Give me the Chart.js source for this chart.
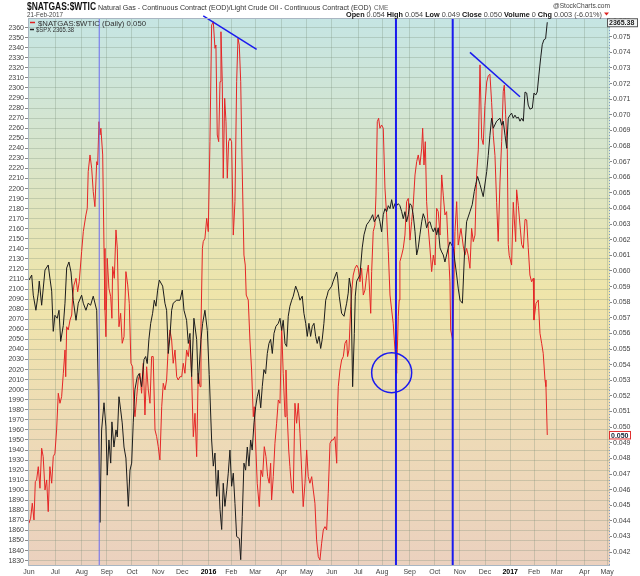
<!DOCTYPE html>
<html>
<head>
<meta charset="utf-8">
<title>$NATGAS:$WTIC vs $SPX</title>
<script src="https://cdn.jsdelivr.net/npm/chart.js@4.4.1/dist/chart.umd.min.js"></script>
<style>
  html, body { margin: 0; padding: 0; background: #fff; overflow: hidden; }
  #myChart { display: block; }
</style>
</head>
<body>
<canvas id="myChart" width="640" height="576"></canvas>
<script>
// x axis is in trading days counted from 1 Jun 2015
const monthStarts = [0, 22, 44, 65, 86, 108, 128, 150, 169, 189, 211, 232, 253, 275, 295, 318, 339, 360, 381, 402, 422, 441, 464, 483];
const monthLabels = ['Jun', 'Jul', 'Aug', 'Sep', 'Oct', 'Nov', 'Dec', '2016', 'Feb', 'Mar', 'Apr', 'May', 'Jun', 'Jul', 'Aug', 'Sep', 'Oct', 'Nov', 'Dec', '2017', 'Feb', 'Mar', 'Apr', 'May'];

const spxTicks = [];
for (let v = 1830; v <= 2360; v += 10) spxTicks.push(v);
const ratioTicks = [];
for (let v = 42; v <= 76; v++) ratioTicks.push(v / 1000);

// $SPX (black, left axis)
const spxDays = [0, 2.3, 3.6, 5.8, 7.8, 8.6, 10.6, 13.4, 16.1, 17.5, 19.0, 20.3, 21.7, 23.6, 25.1, 26.5, 28.7, 30.1, 31.5, 33.4,
  35.1, 37.0, 39.3, 41.2, 44.0, 45.4, 47.6, 49.5, 51.5, 53.7, 56.6, 57.9, 59.3, 60.7, 62.7, 64.3, 65.4, 66.8, 68.3, 69.3,
  71.0, 72.7, 73.8, 75.2, 76.6, 77.9, 79.4, 81.0, 83.0, 84.4, 85.8, 87.1, 88.5, 90.5, 92.1, 94.1, 96.1, 97.5, 98.8, 100.2,
  101.7, 103.3, 104.7, 106.1, 107.5, 108.9, 111.7, 113.6, 115.0, 116.4, 117.8, 119.2, 120.5, 123.4, 126.2, 128.1, 129.5, 131.7, 133.1, 134.5,
  135.9, 137.8, 140.1, 141.4, 143.7, 145.1, 147.0, 149.0, 150.6, 152.6, 154.0, 155.4, 156.8, 158.1, 159.6, 161.0, 162.3, 163.7, 165.2, 166.5,
  167.9, 169.3, 170.7, 172.1, 173.5, 175.7, 176.9, 178.2, 179.6, 181.0, 182.4, 183.8, 185.2, 186.5, 188.0, 189.4, 190.7, 192.1, 193.6, 194.9,
  196.3, 197.7, 199.1, 200.5, 201.9, 203.3, 204.7, 206.3, 208.3, 209.7, 211.1, 212.4, 213.9, 215.3, 216.6, 218.0, 219.5, 220.8, 222.8, 225.0,
  226.4, 228.3, 229.7, 231.2, 232.5, 233.9, 235.3, 236.7, 238.1, 239.5, 240.8, 242.3, 243.7, 245.0, 246.4, 247.9, 249.2, 250.0, 252.9, 254.2,
  257.1, 257.9, 259.2, 261.2, 263.2, 265.4, 266.7, 267.6, 269.0, 270.4, 271.8, 272.6, 273.8, 276.5, 278.4, 279.9, 282.1, 284.0, 285.5, 287.1,
  288.5, 289.9, 291.8, 293.2, 294.6, 296.0, 297.4, 298.8, 300.2, 301.6, 303.0, 304.3, 305.8, 307.2, 308.5, 309.9, 311.4, 312.7, 314.1, 315.5,
  316.9, 318.3, 319.7, 321.0, 322.5, 323.9, 325.2, 326.6, 328.1, 329.4, 330.8, 332.2, 333.6, 335.0, 336.4, 337.8, 339.2, 340.6, 341.9, 343.4,
  344.8, 346.1, 347.5, 348.9, 350.3, 351.7, 353.1, 354.5, 355.9, 357.3, 358.6, 360.1, 362.1, 363.8, 365.6, 368.4, 370.3, 372.0, 373.2, 374.8,
  376.8, 379.5, 382.4, 383.7, 385.1, 386.5, 387.9, 390.7, 393.5, 394.9, 396.2, 397.7, 399.1, 400.4, 401.8, 403.2, 404.6, 406.0, 407.4, 408.8,
  410.2, 411.6, 413.0, 414.4, 415.8, 417.1, 418.5, 420.5, 421.9, 423.3, 424.6, 426.0, 427.5, 428.8, 430.2, 431.6, 433.0];
const spxValues = [2109, 2114, 2094, 2079, 2096, 2108, 2084, 2119, 2124, 2111, 2098, 2058, 2074, 2071, 2079, 2048, 2064, 2086, 2121, 2127,
  2117, 2089, 2069, 2086, 2094, 2086, 2079, 2086, 2084, 2093, 2079, 2000, 1868, 1960, 1987, 1963, 1915, 1950, 1927, 1968,
  1943, 1960, 1953, 1993, 1980, 1967, 1943, 1932, 1884, 1920, 1927, 1967, 2000, 2013, 2016, 2003, 2030, 2033, 2026, 2050,
  2066, 2076, 2089, 2083, 2099, 2109, 2103, 2086, 2079, 2036, 2053, 2079, 2086, 2089, 2089, 2099, 2079, 2069, 2046, 2056,
  2013, 2071, 2050, 2006, 2050, 2066, 2079, 2059, 2015, 1950, 1924, 1937, 1894, 1920, 1881, 1861, 1907, 1884, 1900, 1917,
  1940, 1904, 1917, 1887, 1854, 1852, 1831, 1874, 1927, 1920, 1943, 1924, 1950, 1940, 1967, 1983, 1993, 2000, 1982, 2003,
  2020, 2016, 2036, 2046, 2050, 2036, 2056, 2063, 2066, 2071, 2059, 2069, 2046, 2043, 2073, 2083, 2089, 2093, 2103, 2096,
  2089, 2093, 2076, 2066, 2053, 2066, 2053, 2063, 2066, 2053, 2046, 2053, 2041, 2050, 2066, 2089, 2094, 2098, 2103, 2108,
  2117, 2111, 2093, 2076, 2073, 2086, 2096, 2111, 2101, 2003, 2056, 2093, 2108, 2114, 2141, 2154, 2164, 2167, 2170, 2174,
  2167, 2170, 2174, 2167, 2157, 2174, 2180, 2177, 2183, 2180, 2189, 2180, 2185, 2183, 2185, 2183, 2177, 2170, 2177, 2167,
  2174, 2185, 2183, 2174, 2157, 2134, 2141, 2154, 2167, 2175, 2170, 2161, 2166, 2167, 2161, 2157, 2161, 2154, 2161, 2141,
  2137, 2134, 2127, 2134, 2141, 2147, 2144, 2141, 2127, 2114, 2101, 2089, 2086, 2134, 2167, 2177, 2184, 2197, 2204, 2212,
  2204, 2192, 2217, 2233, 2253, 2270, 2260, 2267, 2270, 2263, 2267, 2253, 2240, 2270, 2273, 2275, 2270, 2273, 2270, 2271,
  2267, 2270, 2267, 2296, 2295, 2283, 2279, 2280, 2295, 2293, 2296, 2313, 2330, 2343, 2348, 2349, 2365.38];

// $NATGAS:$WTIC (red, right axis)
const ratioDays = [0, 1.4, 2.8, 4.2, 5.3, 6.4, 7.8, 9.2, 10.6, 11.9, 13.4, 14.8, 16.1, 17.5, 19.0, 20.3, 21.7, 23.1, 24.5, 25.9,
  27.3, 28.7, 30.1, 30.7, 31.5, 32.8, 34.3, 35.7, 36.5, 37.6, 39.3, 40.7, 42.0, 44.0, 45.4, 47.6, 48.7, 49.5, 51.0, 52.4,
  53.7, 55.1, 56.6, 57.4, 58.5, 59.3, 60.1, 61.6, 62.7, 63.5, 64.3, 65.4, 66.8, 68.3, 69.3, 69.9, 71.3, 72.7, 73.8, 75.2,
  76.6, 77.9, 79.4, 81.0, 82.5, 83.8, 85.2, 86.6, 87.7, 88.6, 90.0, 91.3, 92.7, 94.1, 95.5, 96.9, 98.3, 99.7, 101.1, 102.5,
  103.8, 105.3, 106.7, 108.0, 109.4, 110.9, 112.2, 113.6, 115.0, 116.4, 117.8, 119.2, 120.5, 122.0, 123.4, 124.7, 126.1, 127.6, 128.9, 130.3,
  131.7, 133.1, 134.5, 135.9, 137.3, 138.7, 140.1, 141.4, 142.9, 143.7, 144.9, 145.6, 147.0, 148.5, 149.8, 151.2, 152.6, 154.0, 155.4, 156.2,
  157.3, 158.5, 159.6, 160.4, 161.5, 162.3, 163.5, 164.6, 165.7, 166.8, 167.9, 169.3, 170.7, 172.1, 173.5, 174.6, 175.7, 176.9, 177.9, 179.6,
  180.7, 181.5, 183.2, 184.6, 186.0, 187.4, 188.2, 189.6, 190.7, 192.4, 193.8, 195.2, 196.6, 198.0, 199.4, 200.7, 201.9, 202.7, 204.1, 205.5,
  206.9, 208.3, 209.7, 211.1, 212.4, 213.9, 214.7, 215.8, 217.0, 218.0, 219.5, 220.8, 222.2, 223.6, 225.0, 226.4, 227.8, 229.1, 230.6, 232.0,
  233.3, 234.7, 236.2, 237.5, 238.9, 240.3, 241.7, 243.1, 244.5, 245.9, 247.3, 248.7, 250.0, 251.5, 252.9, 254.2, 255.6, 257.1, 257.6, 258.4,
  259.8, 261.2, 262.6, 264.0, 265.4, 266.2, 267.3, 268.8, 270.1, 270.9, 272.3, 273.8, 275.1, 276.5, 277.9, 279.3, 280.7, 282.1, 283.5, 285.5,
  286.3, 287.6, 289.0, 289.9, 291.0, 292.1, 293.2, 294.6, 296.0, 297.4, 298.8, 300.2, 301.6, 303.0, 304.3, 305.8, 307.2, 308.5, 309.3, 309.9,
  311.4, 312.7, 314.1, 315.5, 316.9, 318.3, 319.7, 321.0, 322.5, 323.9, 325.2, 326.6, 328.1, 328.9, 330.0, 331.1, 332.2, 333.6, 335.0, 336.4,
  337.8, 339.2, 340.6, 341.9, 343.4, 344.8, 346.1, 347.5, 348.9, 350.3, 351.7, 352.3, 354.0, 355.9, 357.3, 358.6, 360.9, 362.8, 364.2, 365.6,
  366.9, 368.4, 369.8, 371.2, 372.6, 374.0, 375.4, 376.8, 378.2, 379.5, 380.9, 382.4, 383.7, 385.1, 386.5, 387.9, 389.3, 390.7, 392.0, 393.5,
  394.9, 396.2, 397.1, 398.2, 399.6, 400.4, 401.2, 403.2, 404.6, 406.6, 407.4, 408.8, 410.2, 411.6, 413.0, 414.4, 415.8, 417.1, 418.5, 419.9,
  421.3, 421.9, 423.6, 425.5, 426.9, 428.3, 429.6, 431.1, 431.9, 433.0];
const ratioValues = [0.04385, 0.04417, 0.04513, 0.04406, 0.04651, 0.04662, 0.04747, 0.04609, 0.04865, 0.04811, 0.04598, 0.04662, 0.04459, 0.04747, 0.04641, 0.04811, 0.04833, 0.04982, 0.05217, 0.05153,
  0.05195, 0.05345, 0.05494, 0.05323, 0.05643, 0.05622, 0.05686, 0.05718, 0.05835, 0.05910, 0.05953, 0.05867, 0.05931, 0.06124, 0.06252, 0.06359, 0.06401, 0.06636, 0.06743, 0.06658,
  0.06508, 0.06412, 0.06700, 0.06679, 0.06956, 0.06871, 0.06914, 0.06743, 0.06145, 0.05750, 0.05579, 0.06081, 0.05889, 0.05835, 0.05697, 0.06028, 0.05953, 0.06263, 0.06145, 0.05643,
  0.05729, 0.05537, 0.05579, 0.05996, 0.05911, 0.05793, 0.05409, 0.05387, 0.05131, 0.05067, 0.05195, 0.05302, 0.05345, 0.05217, 0.05409, 0.05078, 0.05387, 0.05238, 0.05153, 0.05452,
  0.05452, 0.04982, 0.04939, 0.04875, 0.04790, 0.05131, 0.05281, 0.05238, 0.05302, 0.05515, 0.05622, 0.05558, 0.05409, 0.05494, 0.05323, 0.05302, 0.05323, 0.05323, 0.05409, 0.05345,
  0.05494, 0.05452, 0.05558, 0.05323, 0.04939, 0.05089, 0.04811, 0.05345, 0.05259, 0.05643, 0.06145, 0.06188, 0.06209, 0.06337, 0.06252, 0.06828, 0.07575, 0.07596, 0.07426, 0.07447,
  0.06871, 0.06828, 0.07212, 0.07532, 0.07212, 0.06594, 0.07106, 0.06956, 0.06594, 0.06828, 0.06850, 0.06828, 0.06230, 0.06444, 0.07212, 0.07490, 0.07447, 0.07212, 0.06743, 0.06102,
  0.06038, 0.05846, 0.05814, 0.05558, 0.05366, 0.05067, 0.05131, 0.04854, 0.04641, 0.04491, 0.04726, 0.04683, 0.04875, 0.04811, 0.04683, 0.04641, 0.04769, 0.04534, 0.04683, 0.04897,
  0.05025, 0.05174, 0.05153, 0.05643, 0.05345, 0.05067, 0.05366, 0.05067, 0.04854, 0.04747, 0.04598, 0.04577, 0.05153, 0.05025, 0.05153, 0.04961, 0.04726, 0.04491, 0.04641, 0.04854,
  0.04683, 0.04641, 0.04683, 0.04598, 0.04513, 0.04278, 0.04171, 0.04150, 0.04257, 0.04342, 0.04363, 0.04342, 0.04577, 0.04897, 0.04918, 0.04918, 0.04939, 0.04769, 0.05067, 0.05259,
  0.05366, 0.05430, 0.05452, 0.05537, 0.05558, 0.05452, 0.05494, 0.05771, 0.05910, 0.05974, 0.06017, 0.06038, 0.06017, 0.05931, 0.06017, 0.05846, 0.05878, 0.05974, 0.06038, 0.05729,
  0.05996, 0.06252, 0.06294, 0.06486, 0.06956, 0.06978, 0.06914, 0.06935, 0.06914, 0.06530, 0.06359, 0.06124, 0.05846, 0.05750, 0.05665, 0.05494, 0.05345, 0.05707, 0.05814, 0.06060,
  0.06102, 0.06145, 0.06230, 0.06444, 0.06465, 0.06198, 0.06316, 0.06423, 0.06615, 0.06700, 0.06743, 0.06679, 0.06786, 0.06914, 0.06679, 0.06828, 0.06444, 0.06273, 0.06145, 0.05996,
  0.06102, 0.06038, 0.06401, 0.06380, 0.06230, 0.06615, 0.06486, 0.06359, 0.06380, 0.06145, 0.05931, 0.05622, 0.05558, 0.06252, 0.06444, 0.06166, 0.06273, 0.06160, 0.06102, 0.06145,
  0.06102, 0.06017, 0.06273, 0.06188, 0.06230, 0.06620, 0.06780, 0.07320, 0.06850, 0.06810, 0.07060, 0.07210, 0.07250, 0.07260, 0.07080, 0.06870, 0.06740, 0.06440, 0.06190, 0.06570,
  0.06830, 0.07150, 0.07190, 0.07000, 0.06780, 0.06170, 0.06100, 0.06038, 0.06440, 0.06188, 0.06520, 0.06420, 0.06294, 0.06170, 0.06145, 0.06330, 0.06327, 0.06150, 0.05974, 0.05931,
  0.05953, 0.05686, 0.05793, 0.05814, 0.05601, 0.05537, 0.05473, 0.05302, 0.05259, 0.04950];

// blue annotations drawn on the chart
const markerDays = [58.7, 306.6, 354.0];
const trendJan16 = [[145.6, 0.07633], [190.2, 0.07419]];
const trendDec16 = [[368.4, 0.07400], [410.2, 0.07116]];
const circleAt = [303.0, 0.05349];

const spxMin = 1824.7, spxMax = 2369.6;
const ratioMin = 0.04111, ratioMax = 0.07620;

const toPoints = (days, vals) => days.map((d, i) => ({ x: d, y: vals[i] }));
const gridColor = 'rgba(115, 135, 115, 0.28)';
const font = '"Liberation Sans", Arial, sans-serif';

const backdrop = {
    id: 'backdrop',
    beforeDraw(chart) {
        const { ctx, chartArea: a } = chart;
        ctx.save();
        ctx.fillStyle = '#fff';
        ctx.fillRect(0, 0, chart.width, chart.height);
        const g = ctx.createLinearGradient(0, a.top, 0, a.bottom);
        g.addColorStop(0, '#c5e5e3');
        g.addColorStop(0.25, '#d8e5cb');
        g.addColorStop(0.5, '#efe5aa');
        g.addColorStop(0.75, '#eedbb6');
        g.addColorStop(1, '#ebd1bf');
        ctx.fillStyle = g;
        ctx.fillRect(a.left, a.top, a.right - a.left, a.bottom - a.top);
        ctx.restore();
    },
    afterDraw(chart) {
        const { ctx, chartArea: a } = chart;
        const ySpx = chart.scales.ySpx, yRatio = chart.scales.yRatio;
        ctx.save();

        // frame
        ctx.strokeStyle = '#a9b6c2';
        ctx.lineWidth = 1;
        ctx.beginPath();
        ctx.moveTo(a.right, a.top + 0.5);
        ctx.lineTo(a.left + 0.5, a.top + 0.5);
        ctx.lineTo(a.left + 0.5, a.bottom - 0.5);
        ctx.lineTo(a.right, a.bottom - 0.5);
        ctx.stroke();
        ctx.setLineDash([1, 2]);
        ctx.strokeStyle = '#7f9cc6';
        ctx.beginPath();
        ctx.moveTo(a.right - 0.5, a.top);
        ctx.lineTo(a.right - 0.5, a.bottom);
        ctx.stroke();
        ctx.setLineDash([]);

        // header
        ctx.textBaseline = 'alphabetic';
        ctx.fillStyle = '#111';
        ctx.font = 'bold 11px ' + font;
        ctx.fillText('$NATGAS:$WTIC', 27, 10, 69);
        ctx.fillStyle = '#333';
        ctx.font = '8px ' + font;
        ctx.fillText('Natural Gas - Continuous Contract (EOD)/Light Crude Oil - Continuous Contract (EOD)', 98, 9.5, 273);
        ctx.fillStyle = '#666';
        ctx.font = '6.5px ' + font;
        ctx.fillText('CME', 374, 9.5);
        ctx.fillStyle = '#444';
        ctx.font = '7px ' + font;
        ctx.fillText('21-Feb-2017', 27, 16.5, 36);
        ctx.textAlign = 'right';
        ctx.fillText('@StockCharts.com', 610, 8, 57);
        ctx.textAlign = 'left';

        const parts = [['Open', 1], [' 0.054 ', 0], ['High', 1], [' 0.054 ', 0], ['Low', 1], [' 0.049 ', 0],
            ['Close', 1], [' 0.050 ', 0], ['Volume', 1], [' 0 ', 0], ['Chg', 1], [' 0.003 (-6.01%)', 0]];
        const fontFor = b => (b ? 'bold ' : '') + '7.5px ' + font;
        let total = 0;
        parts.forEach(([t, b]) => { ctx.font = fontFor(b); total += ctx.measureText(t).width; });
        const k = Math.min(1, 256 / total);
        let x = 346;
        parts.forEach(([t, b]) => {
            ctx.font = fontFor(b);
            ctx.fillStyle = b ? '#111' : '#444';
            const w = ctx.measureText(t).width * k;
            ctx.fillText(t, x, 16.5, w);
            x += w;
        });
        ctx.fillStyle = '#d22';
        ctx.beginPath();
        ctx.moveTo(x + 2, 12.5);
        ctx.lineTo(x + 7, 12.5);
        ctx.lineTo(x + 4.5, 15.5);
        ctx.closePath();
        ctx.fill();

        // legend
        ctx.lineWidth = 1.5;
        ctx.strokeStyle = '#e02020';
        ctx.beginPath(); ctx.moveTo(30, 22.5); ctx.lineTo(35, 22.5); ctx.stroke();
        ctx.strokeStyle = '#222';
        ctx.beginPath(); ctx.moveTo(30, 29.5); ctx.lineTo(34, 29.5); ctx.stroke();
        ctx.fillStyle = '#333';
        ctx.font = '8px ' + font;
        ctx.fillText('$NATGAS:$WTIC (Daily) 0.050', 38, 25.5, 108);
        ctx.font = '6.5px ' + font;
        ctx.fillText('$SPX 2365.38', 36, 31.5, 38);

        // last value boxes on the right
        const ys = ySpx.getPixelForValue(spxValues[spxValues.length - 1]);
        ctx.fillStyle = '#f4f6f6';
        ctx.fillRect(607.5, ys - 3.5, 30, 8);
        ctx.strokeStyle = '#555';
        ctx.lineWidth = 1;
        ctx.strokeRect(607.5, ys - 3.5, 30, 8);
        ctx.fillStyle = '#222';
        ctx.font = 'bold 7px ' + font;
        ctx.fillText(String(spxValues[spxValues.length - 1]), 609, ys + 3, 27);

        const yr = yRatio.getPixelForValue(ratioValues[ratioValues.length - 1]);
        ctx.fillStyle = '#fff';
        ctx.fillRect(609.5, yr - 3.5, 21, 7.5);
        ctx.strokeStyle = '#e03030';
        ctx.strokeRect(609.5, yr - 3.5, 21, 7.5);
        ctx.fillStyle = '#123';
        ctx.fillText('0.050', 611, yr + 3, 18);
        ctx.restore();
    }
};

const blue = '#1a1aee';
const markerSets = markerDays.map((d, i) => ({
    data: [{ x: d, y: spxMin }, { x: d, y: spxMax }],
    yAxisID: 'ySpx',
    borderColor: i === 0 ? '#6b6bf0' : blue,
    borderWidth: i === 0 ? 1 : 2
}));

const ctx = document.getElementById('myChart').getContext('2d');
const myChart = new Chart(ctx, {
    type: 'line',
    data: {
        datasets: [
            {
                data: [{ x: circleAt[0], y: circleAt[1] }],
                yAxisID: 'yRatio',
                showLine: false,
                pointRadius: 20,
                pointBorderWidth: 1.5,
                pointBorderColor: blue,
                pointBackgroundColor: 'rgba(0,0,0,0)'
            },
            ...markerSets,
            {
                data: trendJan16.map(p => ({ x: p[0], y: p[1] })),
                yAxisID: 'yRatio',
                borderColor: blue,
                borderWidth: 1.5,
                clip: false
            },
            {
                data: trendDec16.map(p => ({ x: p[0], y: p[1] })),
                yAxisID: 'yRatio',
                borderColor: blue,
                borderWidth: 1.5
            },
            {
                label: '$SPX',
                data: toPoints(spxDays, spxValues),
                yAxisID: 'ySpx',
                borderColor: '#1c1c1c',
                borderWidth: 1
            },
            {
                label: '$NATGAS:$WTIC',
                data: toPoints(ratioDays, ratioValues),
                yAxisID: 'yRatio',
                borderColor: '#e52626',
                borderWidth: 1
            }
        ]
    },
    options: {
        responsive: false,
        animation: false,
        events: [],
        layout: { autoPadding: false, padding: { top: 18, left: 0, right: 0, bottom: 0 } },
        elements: { point: { radius: 0 }, line: { tension: 0 } },
        plugins: { legend: { display: false }, tooltip: { enabled: false } },
        scales: {
            x: {
                type: 'linear',
                min: -0.8,
                max: 485.4,
                afterBuildTicks: s => { s.ticks = monthStarts.map(v => ({ value: v })); },
                afterFit: s => { s.height = 10; },
                grid: { color: gridColor, drawTicks: false },
                border: { display: false },
                ticks: {
                    autoSkip: false,
                    maxRotation: 0,
                    padding: 2,
                    color: c => /^20/.test(monthLabels[c.index]) ? '#000' : '#444',
                    font: c => ({ family: font, size: 7, weight: /^20/.test(monthLabels[c.index]) ? 'bold' : 'normal' }),
                    callback: (v, i) => monthLabels[i]
                }
            },
            ySpx: {
                position: 'left',
                min: spxMin,
                max: spxMax,
                afterBuildTicks: s => { s.ticks = spxTicks.map(v => ({ value: v })); },
                afterFit: s => { s.width = 28; },
                grid: { color: gridColor, tickColor: '#888', tickLength: 3 },
                border: { display: false },
                ticks: { autoSkip: false, padding: 1, color: '#444', font: { family: font, size: 7 }, callback: v => String(v) }
            },
            yRatio: {
                position: 'right',
                min: ratioMin,
                max: ratioMax,
                afterBuildTicks: s => { s.ticks = ratioTicks.map(v => ({ value: v })); },
                afterFit: s => { s.width = 30; },
                grid: { drawOnChartArea: false, tickColor: '#888', tickLength: 2 },
                border: { display: false },
                ticks: { autoSkip: false, padding: 1, color: '#444', font: { family: font, size: 7 }, callback: v => v.toFixed(3) }
            }
        }
    },
    plugins: [backdrop]
});
</script>
</body>
</html>
